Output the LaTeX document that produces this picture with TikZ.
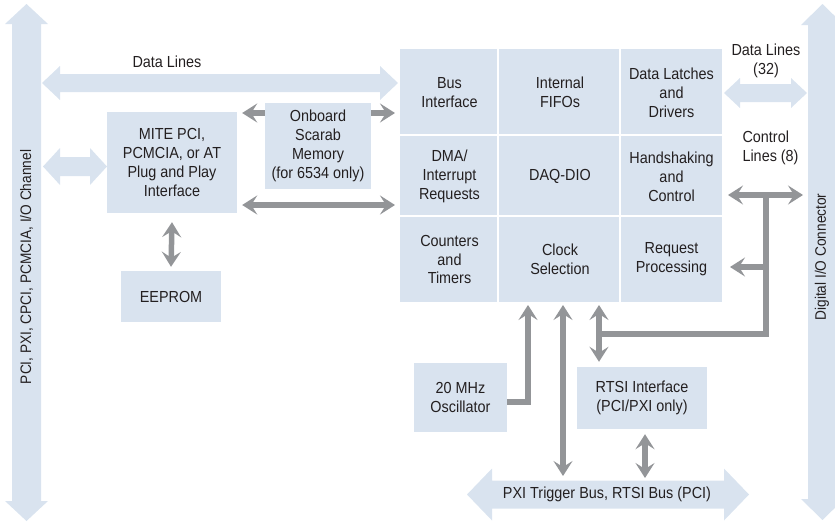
\documentclass[tikz,border=0pt]{standalone}
\usepackage{fontspec}
\setmainfont{Liberation Sans}[FakeStretch=0.9]
\usetikzlibrary{arrows.meta,calc}
\definecolor{lb}{HTML}{D9E3EF}
\definecolor{gr}{HTML}{939598}
\definecolor{tx}{HTML}{231F20}
\newcommand{\hfat}[6]{% x1 x2 yc shafthalf headhalf headlen
  \fill[lb] (#1,#3) -- ({#1+#6},{#3-#5}) -- ({#1+#6},{#3-#4}) -- ({#2-#6},{#3-#4}) -- ({#2-#6},{#3-#5}) -- (#2,#3)
   -- ({#2-#6},{#3+#5}) -- ({#2-#6},{#3+#4}) -- ({#1+#6},{#3+#4}) -- ({#1+#6},{#3+#5}) -- cycle;}
\newcommand{\vfat}[6]{% y1 y2 xc shafthalf headhalf headlen
  \fill[lb] (#3,#1) -- ({#3-#5},{#1+#6}) -- ({#3-#4},{#1+#6}) -- ({#3-#4},{#2-#6}) -- ({#3-#5},{#2-#6}) -- (#3,#2)
   -- ({#3+#5},{#2-#6}) -- ({#3+#4},{#2-#6}) -- ({#3+#4},{#1+#6}) -- ({#3+#5},{#1+#6}) -- cycle;}
\tikzset{gtip/.tip={Stealth[length=15pt,width=19pt,inset=6pt]}}
\begin{document}
\begin{tikzpicture}[x=1pt,y=-1pt,
  txt/.style={text=tx,align=center,font=\fontsize{16}{18.8}\selectfont},
  vtxt/.style={text=tx,rotate=90,font=\fontsize{15.2}{18}\selectfont},
  box/.style={txt,fill=lb,inner sep=0pt},
  cell/.style={box,draw=white,line width=2pt},
  garrow/.style={draw=gr,line width=5.5pt,line join=miter}]
\useasboundingbox (0,0) rectangle (835,522);
\clip (0,0) rectangle (835,522);
% big bus arrows
\vfat{4}{521}{26.5}{14.5}{21.5}{20}
\vfat{4}{520}{822.5}{14.5}{21.5}{21}
\node[vtxt] (lbus) at (26.5,267) {PCI, PXI, CPCI, PCMCIA, I/O Channel};
\node[vtxt] (rbus) at (822,257) {Digital I/O Connector};
% light fat arrows
\hfat{42}{398}{83}{9}{17}{18}
\node[txt] (dl) at (167,62) {Data Lines};
\hfat{43}{107}{166.5}{9.5}{18.5}{17}
\hfat{724}{807}{93}{9}{15}{16}
\node[txt] (dl32) at (766,61) {Data Lines\\(32)};
\node[txt,align=left,anchor=west] (cl) at (739,148) {Control\\Lines (8)};
\hfat{467}{749}{494.5}{14}{26}{25}
\node[txt] (pxi) at (607,494) {PXI Trigger Bus, RTSI Bus (PCI)};
% boxes
\node[box,minimum width=130pt,minimum height=101pt] (mite) at (172,162.5) {MITE PCI,\\PCMCIA, or AT\\Plug and Play\\Interface};
\node[box,minimum width=106pt,minimum height=86pt] (scarab) at (318,146) {Onboard\\Scarab\\Memory\\(for 6534 only)};
\node[box,minimum width=100pt,minimum height=51pt] (eeprom) at (171,296.5) {EEPROM};
\node[box,minimum width=93pt,minimum height=69pt] (osc) at (460.5,397.5) {20 MHz\\Oscillator};
\node[box,minimum width=130pt,minimum height=62pt] (rtsi) at (642,398) {RTSI Interface\\(PCI/PXI only)};
% grid
\node[cell,minimum width=101pt,minimum height=89pt] (bus) at (449.5,92.5) {Bus\\Interface};
\node[cell,minimum width=124pt,minimum height=89pt] (fifo) at (560,92.5) {Internal\\FIFOs};
\node[cell,minimum width=103pt,minimum height=89pt] (latch) at (671.5,92.5) {Data Latches\\and\\Drivers};
\node[cell,minimum width=101pt,minimum height=83pt] (dma) at (449.5,176.5) {DMA/\\Interrupt\\Requests};
\node[cell,minimum width=124pt,minimum height=83pt] (daq) at (560,176.5) {DAQ-DIO};
\node[cell,minimum width=103pt,minimum height=83pt] (hand) at (671.5,176.5) {Handshaking\\and\\Control};
\node[cell,minimum width=101pt,minimum height=87pt] (count) at (449.5,259.5) {Counters\\and\\Timers};
\node[cell,minimum width=124pt,minimum height=87pt] (clock) at (560,259.5) {Clock\\Selection};
\node[cell,minimum width=103pt,minimum height=87pt] (req) at (671.5,259.5) {Request\\Processing};
% gray arrows
\draw[garrow,-gtip] (scarab.west |- 0,113) -- ([xshift=5pt]mite.east |- 0,113);
\draw[garrow,-gtip] (scarab.east |- 0,113) -- ([xshift=-3pt]bus.west |- 0,113);
\draw[garrow,gtip-gtip] ([xshift=5pt]mite.east |- 0,205) -- ([xshift=-3pt]dma.west |- 0,205);
\draw[garrow,gtip-gtip] ([yshift=-9pt]mite.south) -- ([yshift=4pt]eeprom.north);
\coordinate (cl1) at (728,195);
\coordinate (cl2) at (803,195);
\coordinate (jn) at (766,195);
\coordinate (jr) at (766,267);
\draw[garrow,gtip-gtip] (cl1) -- (cl2);
\draw[garrow,-gtip] (jr) -- ([xshift=6pt]req.east |- jr);
\draw[garrow] (jn) -- (766,334) -- (599,334);
\draw[garrow,-gtip] (osc.east |- 0,402) -- (528,402) -- ([yshift=-1pt]clock.south -| 528,0);
\draw[garrow,gtip-gtip] ([yshift=-1pt]clock.south -| 563,0) -- (563,476);
\draw[garrow,gtip-gtip] ([yshift=-1pt]clock.south -| 599,0) -- ([yshift=5pt]rtsi.north -| 599,0);
\draw[garrow,gtip-gtip] ([yshift=-5pt]rtsi.south -| 645,0) -- (645,478);
\end{tikzpicture}
\end{document}
